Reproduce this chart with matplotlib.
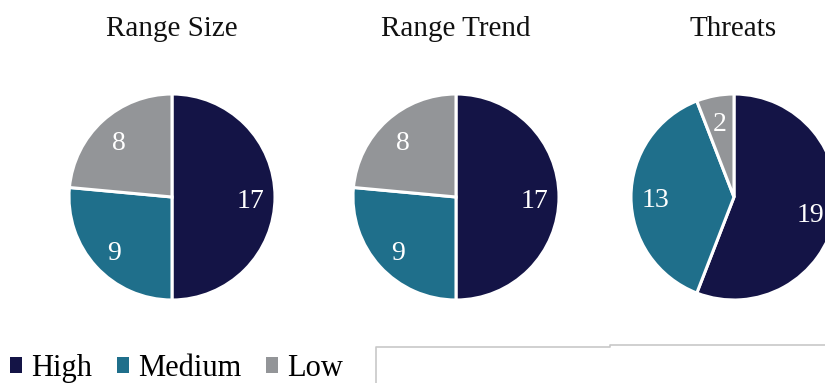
import matplotlib
matplotlib.use("Agg")
import matplotlib.pyplot as plt
from matplotlib.patches import Rectangle

categories = ["High", "Medium", "Low"]
titles = ["Range Size", "Range Trend", "Threats"]
range_size = [17, 9, 8]
range_trend = [17, 9, 8]
threats = [19, 13, 2]
series = [range_size, range_trend, threats]
colors = ["#141446", "#1f6f8b", "#939598"]

W, H = 825, 383
fig = plt.figure(figsize=(W / 100, H / 100), dpi=100)
ax = fig.add_axes([0, 0, 1, 1])
ax.set_xlim(0, W)
ax.set_ylim(0, H)
ax.set_aspect("equal")
ax.axis("off")

font = "Liberation Serif"
centers = [(172, 186), (456, 186), (734, 186)]
radius = 103
title_x = [172, 456, 733]

for vals, c, t, tx in zip(series, centers, titles, title_x):
    total = sum(vals)
    wedges, texts, autotexts = ax.pie(
        vals, colors=colors, startangle=90, counterclock=False,
        center=c, radius=radius, frame=True,
        autopct=lambda p, tot=total: f"{round(p * tot / 100):d}",
        pctdistance=0.76,
        wedgeprops=dict(edgecolor="white", linewidth=2.2),
        textprops=dict(color="white", fontsize=20, family=font),
    )
    for at in autotexts:
        x, y = at.get_position()
        at.set_position((x, y - 4))
    ax.text(tx, H - 29, t, ha="center", va="center", fontsize=21,
            family=font, color="#111111")

ax.set_xlim(0, W)
ax.set_ylim(0, H)
ax.axis("off")

handles = [Rectangle((0, 0), 1, 1, facecolor=col, edgecolor="none") for col in colors]
leg = ax.legend(handles, categories, loc="lower left", bbox_to_anchor=(-0.01, -0.048),
                ncol=3, frameon=False, prop=dict(family=font, size=22),
                handlelength=0.4, handleheight=0.4, handletextpad=0.3,
                columnspacing=0.8, borderaxespad=0.2)

# light box outline at bottom right
ax.plot([376, 376, 610, 610, W], [0, 36, 36, 38, 38], color="#c8c8c8", lw=1.2)

fig.savefig("out.png", dpi=100)
